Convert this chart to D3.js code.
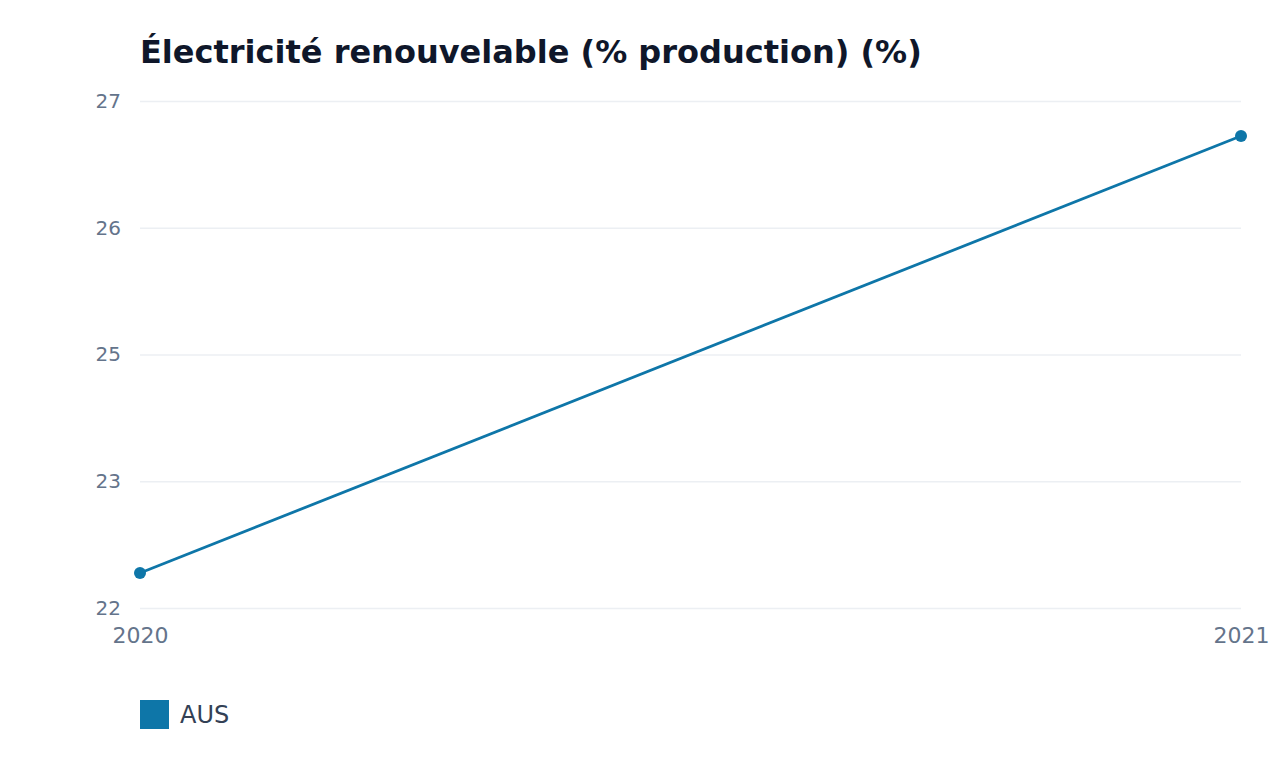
<!DOCTYPE html>
<html>
<head>
<meta charset="utf-8">
<script src="https://cdn.jsdelivr.net/npm/d3@7"></script>
<style>
  body { margin: 0; background: #fff; }
  svg { display: block; font-family: "DejaVu Sans", sans-serif; }
</style>
</head>
<body>
<div id="container"></div>
<script>
// Data.
const title = "Électricité renouvelable (% production) (%)";
const years = ["2020", "2021"];
const seriesName = "AUS";
const values = [22.5, 26.6];

// Chart dimensions and margins.
const width = 1280;
const height = 760;
const marginTop = 101;
const marginRight = 39;
const marginBottom = 152;
const marginLeft = 140;
const color = "#0e76a8";

// x scale: categories spread across the full width.
const x = d3
  .scalePoint()
  .domain(years)
  .range([marginLeft, width - marginRight]);

// y scale: padded extent, five evenly spaced ticks.
const lo = d3.min(values);
const hi = d3.max(values);
const pad = (hi - lo) * 0.08;
const y = d3
  .scaleLinear()
  .domain([lo - pad, hi + pad])
  .range([height - marginBottom, marginTop]);
const yTicks = d3.range(5).map((i) => y.domain()[0] + (i * (y.domain()[1] - y.domain()[0])) / 4);

const svg = d3.create("svg").attr("width", width).attr("height", height);

// Title.
svg
  .append("text")
  .attr("x", marginLeft)
  .attr("y", 63)
  .attr("fill", "#0f172a")
  .attr("font-size", 32)
  .attr("font-weight", "bold")
  .text(title);

// Horizontal grid + y labels.
const yAxis = svg
  .append("g")
  .attr("transform", `translate(${marginLeft},0)`)
  .call(
    d3
      .axisLeft(y)
      .tickValues(yTicks)
      .tickFormat(d3.format(".0f"))
      .tickSize(-(width - marginLeft - marginRight))
      .tickPadding(19)
  );
yAxis.select(".domain").remove();
yAxis.selectAll(".tick line").attr("stroke", "#eceff3").attr("stroke-width", 1.5);
yAxis
  .selectAll(".tick text")
  .attr("fill", "#64748b")
  .attr("font-size", 20)
  .attr("font-family", "DejaVu Sans, sans-serif");

// x labels.
const xAxis = svg
  .append("g")
  .attr("transform", `translate(0,${height - marginBottom})`)
  .call(d3.axisBottom(x).tickSize(0).tickPadding(19));
xAxis.select(".domain").remove();
xAxis
  .selectAll(".tick text")
  .attr("fill", "#64748b")
  .attr("font-size", 22)
  .attr("font-family", "DejaVu Sans, sans-serif");

// Line and points.
const pts = years.map((d, i) => ({ year: d, value: values[i] }));
svg
  .append("path")
  .datum(pts)
  .attr("fill", "none")
  .attr("stroke", color)
  .attr("stroke-width", 2.8)
  .attr("d", d3.line().x((d) => x(d.year)).y((d) => y(d.value)));
svg
  .append("g")
  .selectAll("circle")
  .data(pts)
  .join("circle")
  .attr("cx", (d) => x(d.year))
  .attr("cy", (d) => y(d.value))
  .attr("r", 6)
  .attr("fill", color);

// Legend.
const legend = svg.append("g").attr("transform", `translate(${marginLeft},700)`);
legend.append("rect").attr("width", 29).attr("height", 29).attr("fill", color);
legend
  .append("text")
  .attr("x", 40)
  .attr("y", 15)
  .attr("dy", "0.35em")
  .attr("fill", "#334155")
  .attr("font-size", 24)
  .text(seriesName);

document.getElementById("container").append(svg.node());
</script>
</body>
</html>
